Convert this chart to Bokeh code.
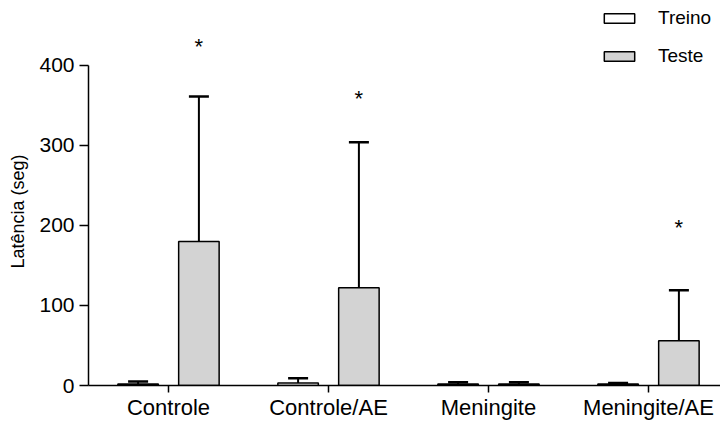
from bokeh.plotting import figure
from bokeh.models import (ColumnDataSource, Range1d, FixedTicker, Whisker, TeeHead,
                          Legend, LegendItem, Title)
from bokeh.core.properties import value
from bokeh.embed import file_html
from bokeh.resources import INLINE

categories = ["Controle", "Controle/AE", "Meningite", "Meningite/AE"]
treino = [2, 3, 2, 2]
treino_err = [5, 9, 4, 3]
teste = [180, 122, 2, 56]
teste_err = [361, 304, 4, 119]
star_y = [423, 359, None, 198]
y_ticks = [0, 100, 200, 300, 400]
y_label = "Latência (seg)"

pos = [i + 0.5 for i in range(len(categories))]
off = 0.19
bw = 0.253

FONT = "Liberation Sans"

p = figure(width=720, height=422, output_backend="svg", toolbar_location=None,
           x_range=Range1d(0, 3.95), y_range=Range1d(0, 481),
           min_border_left=88, min_border_right=0, min_border_top=0, min_border_bottom=37)
p.outline_line_color = None
p.grid.visible = False
p.background_fill_color = "white"

src_tr = ColumnDataSource(dict(x=[c - off for c in pos], top=treino, upper=treino_err))
src_te = ColumnDataSource(dict(x=[c + off for c in pos], top=teste, upper=teste_err))

r1 = p.vbar(x="x", top="top", width=bw, bottom=0, source=src_tr,
            fill_color="white", line_color="black", line_width=1.5)
r2 = p.vbar(x="x", top="top", width=bw, bottom=0, source=src_te,
            fill_color="#d3d3d3", line_color="black", line_width=1.5)

for src in (src_tr, src_te):
    w = Whisker(base="x", lower="top", upper="upper", source=src, dimension="height",
                line_color="black", line_width=2,
                upper_head=TeeHead(size=20, line_color="black", line_width=2.5),
                lower_head=None)
    p.add_layout(w)

sx = [c + off for c, s in zip(pos, star_y) if s is not None]
sy = [s for s in star_y if s is not None]
p.text(x=sx, y=sy, text=["*"] * len(sx), text_align="center", text_baseline="middle",
       text_font=value(FONT), text_font_size="22px", text_color="black")

# axes
p.yaxis.ticker = FixedTicker(ticks=y_ticks)
p.yaxis.bounds = (0, 400)
p.yaxis.major_label_text_font = FONT
p.yaxis.major_label_text_font_size = "21px"
p.yaxis.major_label_standoff = 5
p.yaxis.major_tick_out = 9
p.yaxis.major_tick_in = 0
p.yaxis.minor_tick_out = 0
p.yaxis.minor_tick_in = 0

# y axis title, placed lower than the frame centre like the reference
ytitle = Title(text=y_label, align="left", offset=117, vertical_align="top",
               text_font=FONT, text_font_size="18px", text_font_style="normal",
               text_color="black", standoff=14)
p.add_layout(ytitle, "left")

p.xaxis.ticker = FixedTicker(ticks=pos)
p.xaxis.major_label_overrides = {c: n for c, n in zip(pos, categories)}
p.xaxis.major_label_text_font = FONT
p.xaxis.major_label_text_font_size = "22px"
p.xaxis.major_label_standoff = 2
p.xaxis.major_tick_out = 7
p.xaxis.major_tick_in = 0
p.xaxis.minor_tick_out = 0
p.xaxis.minor_tick_in = 0

for ax in (p.xaxis, p.yaxis):
    ax.axis_line_color = "black"
    ax.axis_line_width = 1.5
    ax.major_tick_line_color = "black"
    ax.major_tick_line_width = 1.5
    ax.major_label_text_color = "black"

legend = Legend(items=[LegendItem(label="Treino", renderers=[r1]),
                       LegendItem(label="Teste", renderers=[r2])],
                location=(512, 318), glyph_width=38, glyph_height=12,
                label_height=20, spacing=16, padding=0, margin=0,
                label_standoff=20, label_text_font=FONT, label_text_font_size="19px",
                label_text_color="black",
                border_line_alpha=0, background_fill_alpha=0)
p.add_layout(legend)

open("out.html", "w").write(file_html(p, INLINE))
